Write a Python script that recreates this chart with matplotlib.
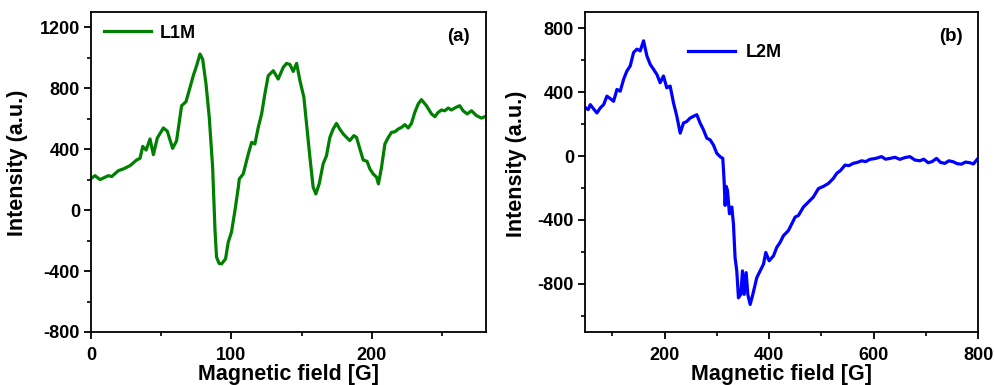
import matplotlib
matplotlib.use("Agg")
import matplotlib.pyplot as plt
from matplotlib.ticker import MultipleLocator

plt.rcParams['font.family'] = ['Liberation Sans', 'DejaVu Sans']
plt.rcParams['font.weight'] = 'bold'
plt.rcParams['axes.unicode_minus'] = False

# Panel (a) L1M
field_a = [0, 2.8, 6.4, 12.3, 14.7, 19.5, 23, 27.8, 32.5, 34.9, 36.8, 39.2, 42, 44.4, 47.2,
           51.5, 54.3, 58.1, 60.9, 64.5, 67.6, 70.5, 72.8, 75.2, 77.6, 79.5, 81.9, 84.2,
           86.6, 87.5, 88.3, 89.4, 91.2, 93, 95.8, 97.7, 100, 102.5, 104.9, 105.6, 108.4,
           112, 114.4, 116.7, 119.1, 121.5, 123.8, 126.2, 129.8, 133.3, 136.9, 139.3,
           141.7, 144, 146.4, 148.8, 151.6, 153.5, 155.9, 158.2, 160.1, 162.5, 165.3,
           167.7, 170.1, 172.4, 174.8, 177.2, 179.6, 182, 184.3, 187.2, 189.1, 191.5,
           193.8, 196.6, 198.6, 201, 203.4, 204.7, 206.9, 209.3, 211.7, 214, 216.4,
           218.8, 221.2, 223.5, 225.9, 228.2, 230.6, 233, 235.3, 238.9, 242.5, 244.9,
           247.2, 249.6, 252, 254.4, 256.7, 259.8, 262.6, 265, 267.9, 271, 274.5, 278.1, 280.4]
intensity_a = [207, 226, 200, 226, 220, 259, 270, 292, 329, 340, 418, 394, 467, 364, 473,
               539, 518, 405, 454, 685, 711, 805, 882, 948, 1024, 990, 827, 609,
               281, 60, -134, -309, -350, -353, -320, -211, -146, -3, 150, 205, 237,
               368, 445, 434, 543, 631, 762, 882, 915, 860, 937, 963,
               955, 910, 963, 849, 740, 565, 346, 150, 106, 172, 303,
               357, 477, 531, 569, 531, 500, 477, 456, 489, 477, 401,
               329, 320, 270, 237, 215, 172, 281, 434, 477, 510, 514,
               532, 543, 561, 539, 569, 641, 696, 725, 685, 631, 613,
               641, 657, 652, 670, 657, 674, 685, 652, 631, 652, 620, 604, 613]

# Panel (b) L2M
field_b = [49.7, 54, 58, 63, 70.7, 77, 83.5, 89.8, 96.2, 102.6, 109, 115.3, 121.7, 128,
           134.4, 140.8, 147.2, 153.5, 159.9, 166.3, 172.6, 179, 185.4, 191.7, 198,
           204.4, 210.8, 217.2, 223.6, 230, 236.3, 242.7, 249, 255.4, 261.8, 268.1,
           274.5, 281, 287.3, 293.6, 300, 306.4, 311.5, 314, 316, 318, 320.4, 324.3,
           328.8, 331.9, 335, 338.3, 341.5, 346, 349.2, 352.4, 356.2, 359.4, 363.9,
           369, 376.6, 383, 389.4, 393.8, 400.2, 408.5, 414.8, 421.2, 427.6, 437.1,
           443.5, 449.9, 456.2, 465.8, 475.3, 484.9, 494.4, 504, 513.5, 523.1, 529.4,
           537, 545.3, 553, 561.2, 569, 577.1, 585, 593, 604, 615.4, 623, 631.3, 641,
           650.4, 660, 669.5, 679, 688.6, 696, 704.6, 712, 720.5, 728, 736.4, 744,
           752.3, 760, 768.2, 776, 784.1, 791, 798.2]
intensity_b = [300, 290, 321, 300, 269, 300, 321, 374, 359, 342, 416, 405, 479, 531,
               563, 647, 668, 657, 720, 626, 573, 542, 510, 458, 500,
               426, 437, 332, 248, 143, 206, 216, 237, 248, 258, 206,
               164, 111, 101, 69, 17, -4, -15, -151, -309, -190, -214, -361,
               -319, -424, -634, -718, -886, -865, -718, -865, -729, -865, -928,
               -865, -760, -718, -676, -603, -655, -624, -571, -540, -498, -466,
               -424, -382, -372, -319, -288, -256, -204, -190, -172, -140, -109,
               -90, -57, -60, -46, -40, -30, -35, -21, -15, -4, -20, -15, -8,
               -21, -10, -4, -25, -30, -20, -42, -35, -15, -40, -46, -30,
               -36, -48, -51, -38, -42, -50, -21]

fig = plt.figure(figsize=(9.95, 3.85), dpi=100)
ax1 = fig.add_axes([0.0915, 0.1377, 0.3965, 0.8311])
ax2 = fig.add_axes([0.588, 0.1377, 0.395, 0.8311])

ax1.plot(field_a, intensity_a, color='#008000', lw=2.3, label='L1M')
ax2.plot(field_b, intensity_b, color='#0000ff', lw=2.3, label='L2M')

ax1.set_xlim(0, 281)
ax1.set_ylim(-800, 1300)
ax1.xaxis.set_major_locator(MultipleLocator(100))
ax1.xaxis.set_minor_locator(MultipleLocator(50))
ax1.yaxis.set_major_locator(MultipleLocator(400))
ax1.yaxis.set_minor_locator(MultipleLocator(200))

ax2.set_xlim(48, 800)
ax2.set_ylim(-1100, 900)
ax2.xaxis.set_major_locator(MultipleLocator(200))
ax2.xaxis.set_minor_locator(MultipleLocator(100))
ax2.yaxis.set_major_locator(MultipleLocator(400))
ax2.yaxis.set_minor_locator(MultipleLocator(200))

for ax in (ax1, ax2):
    for s in ax.spines.values():
        s.set_linewidth(1.3)
    ax.tick_params(which='major', direction='out', length=5, width=1.3,
                   labelsize=13, pad=3)
    ax.tick_params(axis='x', which='major', pad=6)
    ax.tick_params(which='minor', direction='out', length=3, width=1.2)
    for lab in ax.get_xticklabels() + ax.get_yticklabels():
        lab.set_fontweight('bold')
    ax.set_xlabel('Magnetic field [G]', fontsize=15.5, fontweight='bold', labelpad=0)
    ax.set_ylabel('Intensity (a.u.)', fontsize=15.5, fontweight='bold')

ax1.yaxis.set_label_coords(-0.16, 0.53)
ax2.yaxis.set_label_coords(-0.148, 0.525)

ax1.legend(loc='upper left', frameon=False, prop={'size': 13, 'weight': 'bold'},
           handlelength=2.6, handletextpad=0.5, borderaxespad=0.3,
           bbox_to_anchor=(0.0, 1.0))
ax2.legend(loc='upper left', frameon=False, prop={'size': 13, 'weight': 'bold'},
           handlelength=2.6, handletextpad=0.6, bbox_to_anchor=(0.22, 0.95))

ax1.text(0.93, 0.925, '(a)', transform=ax1.transAxes, fontsize=13.5, fontweight='bold',
         ha='center', va='center')
ax2.text(0.93, 0.925, '(b)', transform=ax2.transAxes, fontsize=13.5, fontweight='bold',
         ha='center', va='center')

fig.savefig('out.png', dpi=100)
